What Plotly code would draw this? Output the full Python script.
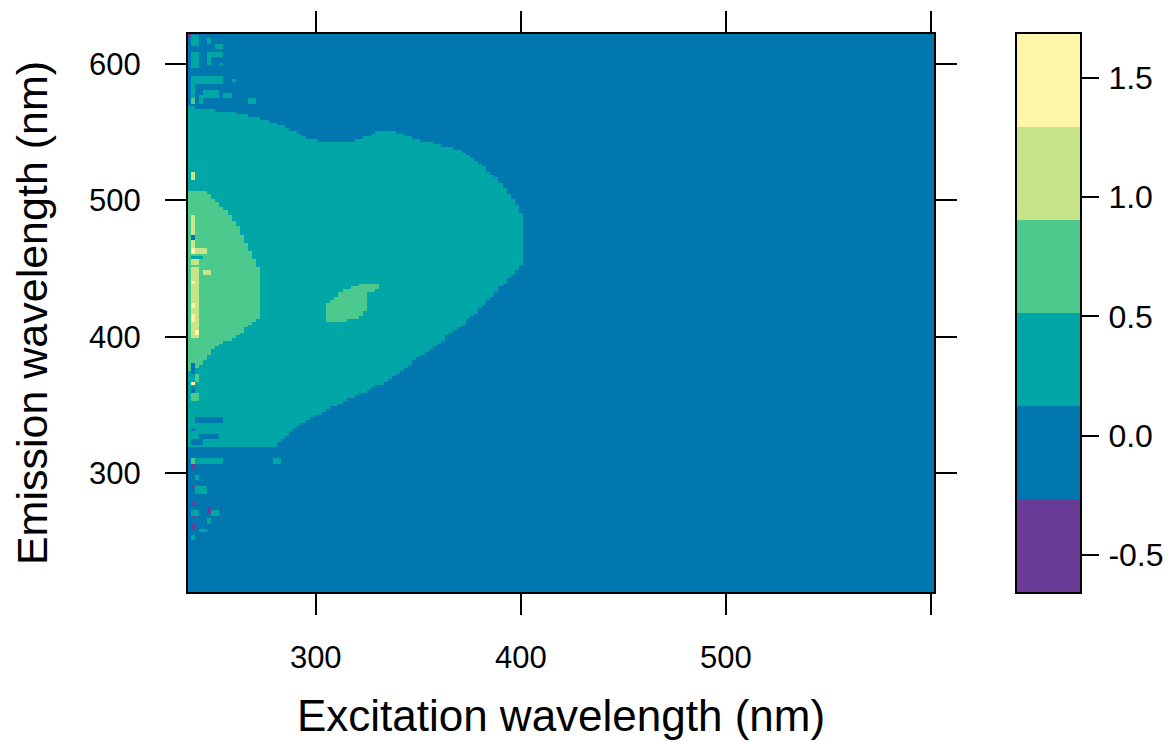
import numpy as np
import plotly.graph_objects as go

# ---------------- data ----------------
# grid of the EEM (nm)
ex = np.arange(238, 603, 2)
em = np.arange(212, 623, 2)

# class values used for each colour band
LV_PURPLE, LV_BLUE, LV_TEAL, LV_GREEN, LV_LGREEN, LV_YELLOW = -0.45, 0.0, 0.3, 0.7, 1.1, 1.5

# outline of the 0.1-0.5 (teal) region
teal_ex = [237.7, 258.2, 272.7, 284.9, 298.1, 306.8, 319.0, 331.1, 338.4, 345.7, 360.3, 372.5,
           383.7, 390.5, 396.8, 400.2, 400.2, 393.4, 385.6, 375.9, 367.6, 357.9, 346.7, 335.0,
           322.4, 307.8, 293.2, 284.9, 280.0, 237.7]
teal_em = [568.5, 564.8, 560.4, 553.8, 544.3, 543.5, 543.5, 550.9, 550.9, 546.5, 540.6, 535.5,
           522.2, 512.7, 500.2, 491.4, 452.6, 441.6, 429.1, 414.4, 404.9, 392.4, 380.7, 368.2,
           358.7, 348.4, 336.7, 326.4, 319.8, 319.8]

# outline of the 0.5-0.9 (green) blob at the left edge
green_ex = [237.7, 246.0, 252.3, 257.2, 262.0, 266.9, 270.3, 273.7, 273.7, 267.9, 262.0, 255.7,
            249.4, 246.0, 241.1, 237.7]
green_em = [506.1, 507.6, 498.0, 490.7, 480.4, 465.8, 456.2, 447.4, 413.7, 408.6, 401.2, 396.1,
            390.2, 382.9, 375.5, 374.1]

# outline of the small green island
island_ex = [304.4, 304.4, 309.2, 314.1, 321.4, 330.2, 330.2, 324.8, 324.8, 320.4, 311.7]
island_em = [410.8, 423.2, 429.1, 434.2, 438.6, 438.6, 434.2, 432.8, 419.6, 413.7, 410.8]

# scattered noisy cells: rectangles (ex0, ex1, em0, em1) and their class
noise_ex0 = [239, 247, 251, 239, 247, 239, 247, 253, 239, 259, 239, 245, 243, 255, 267, 239, 237,
             241, 239, 243, 239,
             239, 239, 279, 239, 241, 239, 241, 239, 239, 247, 249, 239, 247, 239, 243, 239,
             239, 239, 239, 241, 239, 239, 239, 239, 239, 239, 245, 239, 241, 241, 239, 239, 239, 239, 239]
noise_ex1 = [243, 249, 255, 243, 255, 243, 249, 255, 255, 261, 241, 253, 245, 259, 271, 241, 239,
             255, 241, 253, 245,
             255, 241, 283, 241, 243, 241, 247, 241, 243, 249, 253, 241, 249, 241, 247, 241,
             241, 241, 241, 247, 245, 243, 243, 241, 241, 241, 249, 243, 243, 243, 241, 241, 241, 243, 241]
noise_em0 = [613, 615, 611, 605, 605, 597, 599, 599, 585, 587, 575, 575, 571, 575, 571, 571, 619,
             337, 331, 325, 321,
             307, 307, 307, 303, 295, 289, 285, 277, 269, 271, 269, 267, 263, 259, 257, 251,
             465, 471, 461, 461, 457, 453, 411, 439, 421, 411, 445, 399, 401, 367, 373, 365, 359, 353, 515]
noise_em1 = [621, 619, 615, 609, 609, 605, 605, 601, 591, 589, 585, 581, 577, 579, 575, 575, 623,
             341, 333, 329, 325,
             311, 311, 311, 307, 299, 291, 291, 279, 273, 275, 273, 269, 267, 263, 259, 255,
             489, 475, 465, 465, 459, 457, 451, 441, 425, 417, 449, 411, 405, 373, 381, 367, 363, 359, 521]
noise_lvl = ["teal"] * 15 + ["green", "purple"] + ["blue"] * 4 + [
    "teal", "green", "teal", "purple", "teal", "purple", "teal", "purple", "teal", "purple",
    "teal", "purple", "teal", "purple", "teal", "teal",
    "lgreen", "blue", "yellow", "lgreen", "teal", "lgreen", "lgreen", "yellow", "yellow", "yellow",
    "lgreen", "lgreen", "yellow", "green", "blue", "yellow", "blue", "green", "lgreen"]

# colour key
band_colors = ["#6A3C98", "#0077AF", "#00A7A6", "#4CCA8D", "#C6E488", "#FDF5AA"]
z_min, z_max = -0.655, 1.684
cb_ticks = [-0.5, 0.0, 0.5, 1.0, 1.5]
cb_text = ["-0.5", "0.0", "0.5", "1.0", "1.5"]

x_ticks = [300, 400, 500, 600]
x_text = ["300", "400", "500", ""]
y_ticks = [300, 400, 500, 600]
y_text = ["300", "400", "500", "600"]

# ---------------- build the matrix ----------------
level_of = {"purple": LV_PURPLE, "blue": LV_BLUE, "teal": LV_TEAL,
            "green": LV_GREEN, "lgreen": LV_LGREEN, "yellow": LV_YELLOW}

EX, EM = np.meshgrid(ex, em)


def inside(px, py, xs, ys):
    xs = np.asarray(xs); ys = np.asarray(ys)
    res = np.zeros(px.shape, dtype=bool)
    n = len(xs)
    j = n - 1
    for i in range(n):
        xi, yi, xj, yj = xs[i], ys[i], xs[j], ys[j]
        cond = ((yi > py) != (yj > py))
        with np.errstate(divide="ignore", invalid="ignore"):
            xint = (xj - xi) * (py - yi) / (yj - yi + 1e-12) + xi
        res ^= cond & (px < xint)
        j = i
    return res


Z = np.full(EX.shape, LV_BLUE, dtype=float)
Z[inside(EX, EM, teal_ex, teal_em)] = LV_TEAL
Z[inside(EX, EM, green_ex, green_em)] = LV_GREEN
Z[inside(EX, EM, island_ex, island_em)] = LV_GREEN
for a, b, c, d, lv in zip(noise_ex0, noise_ex1, noise_em0, noise_em1, noise_lvl):
    m = (EX >= a) & (EX <= b) & (EM >= c) & (EM <= d)
    Z[m] = level_of[lv]

# discrete colour scale
cs = []
n = len(band_colors)
for i, col in enumerate(band_colors):
    cs.append([i / n, col])
    cs.append([(i + 1) / n, col])

# colour key as its own small heatmap (one cell per band)
band_w = (z_max - z_min) / n
key_y = [z_min + (i + 0.5) * band_w for i in range(n)]
key_z = [[v] for v in key_y]

FONT = "Arial, Liberation Sans, Helvetica, sans-serif"

fig = go.Figure()
fig.add_trace(go.Heatmap(
    x=ex, y=em, z=Z, colorscale=cs, zmin=z_min, zmax=z_max,
    showscale=False, hoverinfo="skip", xaxis="x", yaxis="y",
))
fig.add_trace(go.Heatmap(
    x=[0], y=key_y, z=key_z, colorscale=cs, zmin=z_min, zmax=z_max,
    showscale=False, hoverinfo="skip", xaxis="x2", yaxis="y2",
))

PLOT_W = 746 + 83 + 63
axis_common = dict(
    ticks="outside", ticklen=21, tickwidth=2, tickcolor="black",
    showline=True, linewidth=2, linecolor="black", mirror="ticks",
    showgrid=False, zeroline=False, automargin=False,
    tickfont=dict(family=FONT, size=31, color="black"),
)

fig.update_layout(
    width=1166, height=734,
    margin=dict(l=180, r=1166 - 180 - PLOT_W, t=26, b=150, autoexpand=False),
    paper_bgcolor="white", plot_bgcolor="white",
    showlegend=False,
    xaxis=dict(domain=[0, 746 / PLOT_W], anchor="y",
               range=[237.7, 601.5], tickvals=x_ticks, ticktext=x_text,
               ticklabelstandoff=16,
               title=dict(text="Excitation wavelength (nm)", standoff=26,
                          font=dict(family=FONT, size=44, color="black")),
               **axis_common),
    yaxis=dict(domain=[0, 1], anchor="x",
               range=[212.7, 622.0], tickvals=y_ticks, ticktext=y_text,
               ticklabelstandoff=18,
               title=dict(text="Emission wavelength (nm)", standoff=38,
                          font=dict(family=FONT, size=43, color="black")),
               **axis_common),
    xaxis2=dict(domain=[(746 + 83) / PLOT_W, 1], anchor="y2", range=[-0.5, 0.5],
                showticklabels=False, ticks="", showgrid=False, zeroline=False,
                automargin=False,
                showline=True, linewidth=2, linecolor="black", mirror=True),
    yaxis2=dict(domain=[0, 1], anchor="x2", side="right", range=[z_min, z_max],
                tickvals=cb_ticks, ticktext=cb_text, ticks="outside", ticklen=17,
                tickwidth=2, tickcolor="black", ticklabelstandoff=3,
                showgrid=False, zeroline=False, automargin=False,
                showline=True, linewidth=2, linecolor="black", mirror=True,
                tickfont=dict(family=FONT, size=32, color="black")),
)

fig.write_html("out.html")
